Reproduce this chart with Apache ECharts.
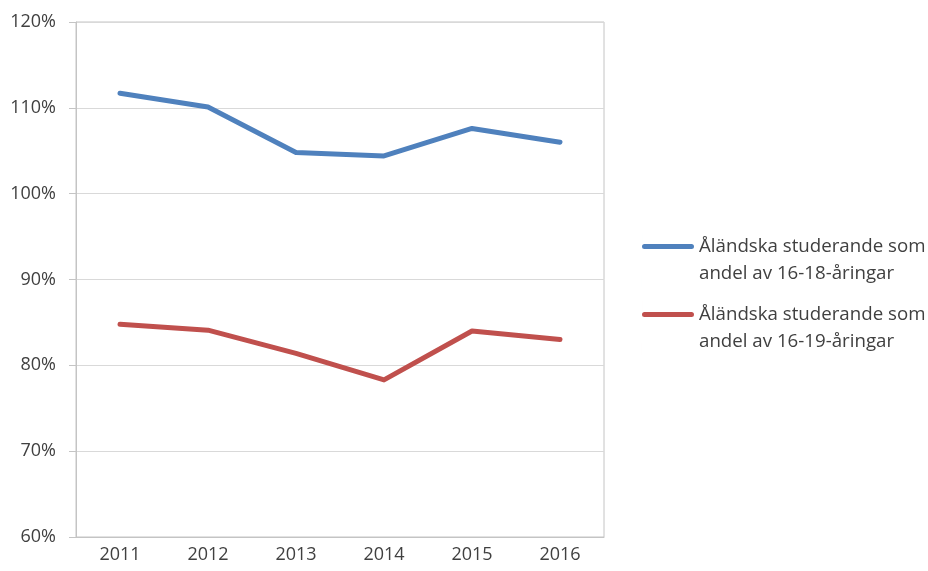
<!DOCTYPE html>
<html>
<head>
<meta charset="utf-8">
<script src="https://cdn.jsdelivr.net/npm/echarts@6/dist/echarts.min.js"></script>
<style>
html,body{margin:0;padding:0;background:#fff;}
#chart{width:928px;height:571px;}
</style>
</head>
<body>
<div id="chart"></div>
<script>
var categories = ['2011', '2012', '2013', '2014', '2015', '2016'];
var seriesNames = ['Åländska studerande som\nandel av 16-18-åringar', 'Åländska studerande som\nandel av 16-19-åringar'];
var blueValues = [111.7, 110.1, 104.8, 104.4, 107.6, 106.0];
var redValues = [84.8, 84.1, 81.4, 78.3, 84.0, 83.0];
var yTicks = [60, 70, 80, 90, 100, 110, 120];

var font = 'Open Sans';
// legend icon: rounded bar near the top of a 52x54 box, so it lines up with the first text line
var legendIcon = 'path://M2.5,11L49.5,11A2.5,2.5,0,0,1,49.5,16L2.5,16A2.5,2.5,0,0,1,2.5,11Z' +
  'M0,0L0.01,0L0,54Z M52,0L52,0.01L51.99,0Z';

var chart = echarts.init(document.getElementById('chart'));
chart.setOption({
  animation: false,
  backgroundColor: '#fff',
  grid: {
    left: 76, right: 324, top: 22, bottom: 34,
    show: true, borderColor: '#c4c4c4', borderWidth: 1, containLabel: false
  },
  legend: {
    orient: 'vertical',
    left: 642,
    top: 233,
    padding: 0,
    itemWidth: 52,
    itemHeight: 54,
    itemGap: 14,
    icon: legendIcon,
    textStyle: {
      fontFamily: font, fontSize: 18.7, color: '#404040', lineHeight: 27
    },
    data: seriesNames
  },
  xAxis: {
    type: 'category',
    data: categories,
    boundaryGap: true,
    axisLine: { show: true, lineStyle: { color: '#c4c4c4', width: 1 } },
    axisTick: { show: false },
    axisLabel: { fontFamily: font, fontSize: 18, color: '#404040', margin: 9 }
  },
  yAxis: {
    type: 'value',
    min: yTicks[0], max: yTicks[yTicks.length - 1], interval: 10,
    axisLine: { show: true, lineStyle: { color: '#c4c4c4', width: 1 } },
    axisTick: { show: true, length: 7, lineStyle: { color: '#c4c4c4' } },
    splitLine: { show: true, lineStyle: { color: '#d9d9d9', width: 1 } },
    axisLabel: {
      fontFamily: font, fontSize: 18, color: '#404040', margin: 20,
      formatter: function (v) { return v + '%'; }
    }
  },
  series: [
    {
      name: seriesNames[0], type: 'line', data: blueValues,
      symbol: 'none', color: '#4f81bd',
      lineStyle: { width: 5, color: '#4f81bd', cap: 'round', join: 'round' }
    },
    {
      name: seriesNames[1], type: 'line', data: redValues,
      symbol: 'none', color: '#c0504d',
      lineStyle: { width: 5, color: '#c0504d', cap: 'round', join: 'round' }
    }
  ]
});
</script>
</body>
</html>
